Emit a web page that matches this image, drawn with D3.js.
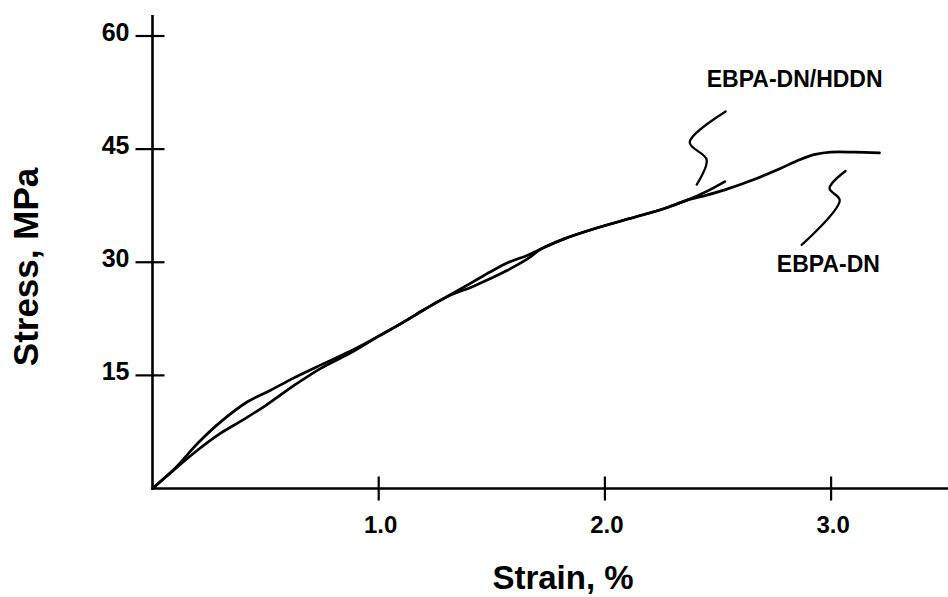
<!DOCTYPE html>
<html>
<head>
<meta charset="utf-8">
<script src="https://cdn.jsdelivr.net/npm/d3@7"></script>
<style>
  html, body { margin: 0; padding: 0; background: #fff; }
  svg { display: block; }
  text { font-family: "Liberation Sans", Arial, Helvetica, sans-serif; font-weight: bold; fill: #000; }
</style>
</head>
<body>
<svg id="chart" width="948" height="597"></svg>
<script>
// ---------------- data ----------------
const xTicks = [1.0, 2.0, 3.0];
const xTickLabels = ["1.0", "2.0", "3.0"];
const yTicks = [15, 30, 45, 60];
const yTickLabels = ["15", "30", "45", "60"];
const xTitle = "Strain, %";
const yTitle = "Stress, MPa";

// EBPA-DN/HDDN
const hddnStrain = [0, 0.10, 0.20, 0.30, 0.42, 0.52, 0.623, 0.742, 0.874, 1.0, 1.1, 1.2, 1.30, 1.417, 1.492, 1.567, 1.656, 1.72, 1.82, 1.96, 2.11, 2.26, 2.36, 2.45, 2.53];
const hddnStress = [0, 2.7, 6.0, 8.8, 11.5, 13.0, 14.64, 16.36, 18.2, 20.2, 21.9, 23.7, 25.4, 27.4, 28.7, 29.9, 30.9, 31.8, 33.1, 34.5, 35.8, 37.1, 38.2, 39.4, 40.7];

// EBPA-DN
const dnStrain = [0, 0.10, 0.20, 0.30, 0.40, 0.50, 0.623, 0.742, 0.874, 1.0, 1.1, 1.2, 1.30, 1.417, 1.492, 1.567, 1.656, 1.72, 1.82, 1.96, 2.11, 2.26, 2.36, 2.45, 2.53, 2.653, 2.773, 2.861, 2.93, 3.0, 3.1, 3.214];
const dnStress = [0, 2.6, 5.1, 7.3, 9.1, 11.0, 13.6, 15.9, 17.95, 20.2, 21.9, 23.7, 25.4, 26.8, 27.8, 28.9, 30.4, 31.8, 33.1, 34.5, 35.8, 37.1, 38.2, 38.9, 39.6, 40.9, 42.4, 43.6, 44.3, 44.6, 44.6, 44.5];

// label leaders (strain, stress)
const hddnLeaderX = [2.534, 2.375, 2.450, 2.406];
const hddnLeaderY = [50.0, 45.9, 43.6, 40.3];
const dnLeaderX = [3.064, 2.993, 3.038, 2.870];
const dnLeaderY = [42.1, 39.8, 38.2, 32.3];

const seriesNames = ["EBPA-DN/HDDN", "EBPA-DN"];
const labelX = [2.45, 2.76];
const labelY = [53.2, 28.7];

// ---------------- drawing ----------------
const svg = d3.select("#chart");
const W = 948;
const x = d3.scaleLinear().domain([0, 1]).range([152.5, 378.7]);
const y = d3.scaleLinear().domain([0, 60]).range([488.5, 36]);

const zip = (a, b) => a.map((v, i) => [v, b[i]]);

// axes
svg.append("line").attr("x1", x(0)).attr("x2", W).attr("y1", y(0)).attr("y2", y(0))
  .attr("stroke", "#000").attr("stroke-width", 2.6);
svg.append("line").attr("x1", x(0)).attr("x2", x(0)).attr("y1", 15).attr("y2", y(0) + 1)
  .attr("stroke", "#000").attr("stroke-width", 2.6);

// x ticks
xTicks.forEach((t, i) => {
  svg.append("line").attr("x1", x(t)).attr("x2", x(t)).attr("y1", y(0) - 12).attr("y2", y(0) + 12)
    .attr("stroke", "#000").attr("stroke-width", 2.2);
  svg.append("text").attr("x", x(t) + 2).attr("y", y(0) + 44)
    .attr("text-anchor", "middle").attr("font-size", 24).text(xTickLabels[i]);
});
// y ticks
yTicks.forEach((t, i) => {
  svg.append("line").attr("x1", x(0) - 17).attr("x2", x(0) + 12).attr("y1", y(t)).attr("y2", y(t))
    .attr("stroke", "#000").attr("stroke-width", 2.2);
  svg.append("text").attr("x", x(0) - 23).attr("y", y(t) + 5)
    .attr("text-anchor", "end").attr("font-size", 25).text(yTickLabels[i]);
});

// titles
svg.append("text").attr("x", 563).attr("y", 589).attr("text-anchor", "middle")
  .attr("font-size", 33).text(xTitle);
svg.append("text").attr("transform", "translate(38,267) rotate(-90)").attr("text-anchor", "middle")
  .attr("font-size", 35).text(yTitle);

// curves
const line = d3.line().x(d => x(d[0])).y(d => y(d[1])).curve(d3.curveCatmullRom.alpha(0.5));
[[hddnStrain, hddnStress], [dnStrain, dnStress]].forEach(([sx, sy]) => {
  svg.append("path").attr("d", line(zip(sx, sy)))
    .attr("fill", "none").attr("stroke", "#000").attr("stroke-width", 2.7)
    .attr("stroke-linejoin", "round").attr("stroke-linecap", "round");
});

// leaders
[[hddnLeaderX, hddnLeaderY], [dnLeaderX, dnLeaderY]].forEach(([lx, ly]) => {
  svg.append("path").attr("d", line(zip(lx, ly)))
    .attr("fill", "none").attr("stroke", "#000").attr("stroke-width", 2.3)
    .attr("stroke-linecap", "round");
});

// labels
seriesNames.forEach((n, i) => {
  svg.append("text").attr("x", x(labelX[i])).attr("y", y(labelY[i]))
    .attr("font-size", 23).text(n);
});
</script>
</body>
</html>
